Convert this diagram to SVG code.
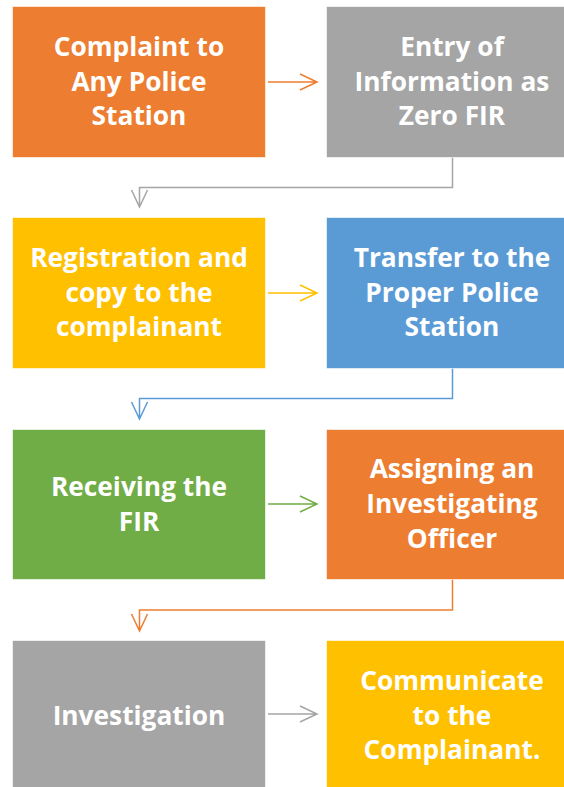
<svg xmlns="http://www.w3.org/2000/svg" width="564" height="787" viewBox="0 0 564 787">
  <style>
    .box { stroke: #ffffff; stroke-opacity: 0.6; stroke-width: 1; }
    .lbl { font-family: "Open Sans", "Noto Sans", "DejaVu Sans", sans-serif; font-weight: bold; font-size: 26.3px; fill: #ffffff; text-anchor: middle; }
    .con { fill: none; stroke-width: 1.5; }
  </style>
  <rect width="564" height="787" fill="#ffffff"/>

  <!-- connectors -->
  <g id="connectors">
    <!-- row 1 -->
    <path class="con" stroke="#ED7D31" d="M268 82 H317 M300 74 L317 82 L300 90"/>
    <path class="con" stroke="#A5A5A5" d="M452.5 157 V187.5 H139.5 V207 M131.5 190 L139.5 207 L147.5 190"/>
    <!-- row 2 -->
    <path class="con" stroke="#FFC000" d="M268 293 H317 M300 285 L317 293 L300 301"/>
    <path class="con" stroke="#5B9BD5" d="M452.5 368 V398.5 H139.5 V419 M131.5 402 L139.5 419 L147.5 402"/>
    <!-- row 3 -->
    <path class="con" stroke="#70AD47" d="M268 504 H317 M300 496 L317 504 L300 512"/>
    <path class="con" stroke="#ED7D31" d="M452.5 579 V610 H139.5 V631 M131.5 614 L139.5 631 L147.5 614"/>
    <!-- row 4 -->
    <path class="con" stroke="#A5A5A5" d="M268 714 H317 M300 706 L317 714 L300 722"/>
  </g>

  <g id="complaint">
    <rect class="box" x="12.5" y="6.5" width="253" height="151" fill="#ED7D31"/>
    <text class="lbl" x="139" y="56">Complaint to</text>
    <text class="lbl" x="139" y="91">Any Police</text>
    <text class="lbl" x="139" y="125">Station</text>
  </g>

  <g id="zero-fir">
    <rect class="box" x="326.5" y="6.5" width="253" height="151" fill="#A5A5A5"/>
    <text class="lbl" x="452" y="56">Entry of</text>
    <text class="lbl" x="452" y="91">Information as</text>
    <text class="lbl" x="452" y="125">Zero FIR</text>
  </g>

  <g id="registration">
    <rect class="box" x="12.5" y="217.5" width="253" height="151" fill="#FFC000"/>
    <text class="lbl" x="139" y="267">Registration and</text>
    <text class="lbl" x="139" y="302">copy to the</text>
    <text class="lbl" x="139" y="336">complainant</text>
  </g>

  <g id="transfer">
    <rect class="box" x="326.5" y="217.5" width="253" height="151" fill="#5B9BD5"/>
    <text class="lbl" x="452" y="267">Transfer to the</text>
    <text class="lbl" x="452" y="302">Proper Police</text>
    <text class="lbl" x="452" y="336">Station</text>
  </g>

  <g id="receiving">
    <rect class="box" x="12.5" y="429.5" width="253" height="150" fill="#70AD47"/>
    <text class="lbl" x="139" y="496">Receiving the</text>
    <text class="lbl" x="139" y="531">FIR</text>
  </g>

  <g id="assigning">
    <rect class="box" x="326.5" y="429.5" width="253" height="150" fill="#ED7D31"/>
    <text class="lbl" x="452" y="478">Assigning an</text>
    <text class="lbl" x="452" y="513">Investigating</text>
    <text class="lbl" x="452" y="548">Officer</text>
  </g>

  <g id="investigation">
    <rect class="box" x="12.5" y="640.5" width="253" height="148" fill="#A5A5A5"/>
    <text class="lbl" x="139" y="725">Investigation</text>
  </g>

  <g id="communicate">
    <rect class="box" x="326.5" y="640.5" width="253" height="148" fill="#FFC000"/>
    <text class="lbl" x="452" y="690">Communicate</text>
    <text class="lbl" x="452" y="725">to the</text>
    <text class="lbl" x="452" y="759">Complainant.</text>
  </g>
</svg>
